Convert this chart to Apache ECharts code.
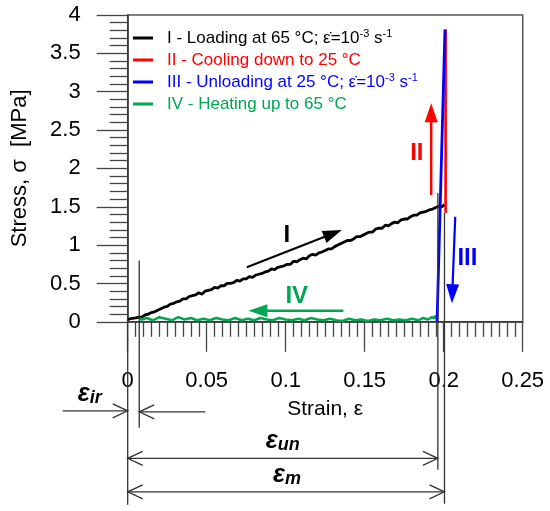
<!DOCTYPE html>
<html><head><meta charset="utf-8">
<script src="https://cdn.jsdelivr.net/npm/echarts@6/dist/echarts.min.js"></script>
<style>html,body{margin:0;padding:0;background:#fff}#c{width:550px;height:511px}</style>
</head><body><div id="c"></div>
<script>
const seriesNames = [
  'I - Loading at 65 °C; ε̇=10-3 s-1',
  'II - Cooling down to 25 °C',
  'III - Unloading at 25 °C; ε̇=10-3 s-1',
  'IV - Heating up to 65 °C'
];
const seriesColors = ['#000000', '#ff0000', '#0000ff', '#00a651'];
const legendRich = [
  'I - Loading at 65 °C; ε̇=10{sup|-3} s{sup|-1}',
  'II - Cooling down to 25 °C',
  'III - Unloading at 25 °C; ε̇=10{sup|-3} s{sup|-1}',
  'IV - Heating up to 65 °C'
];
// [strain, stress MPa]
const loadingI = [[0.000,0.03],[0.002,0.04],[0.003,0.03],[0.005,0.05],[0.007,0.06],[0.009,0.06],[0.011,0.09],[0.013,0.10],[0.015,0.12],[0.017,0.13],[0.019,0.15],[0.021,0.17],[0.023,0.19],[0.025,0.20],[0.027,0.23],[0.029,0.24],[0.031,0.26],[0.033,0.27],[0.035,0.30],[0.037,0.30],[0.039,0.33],[0.041,0.34],[0.043,0.35],[0.045,0.38],[0.047,0.36],[0.049,0.40],[0.051,0.41],[0.053,0.42],[0.055,0.45],[0.057,0.44],[0.059,0.47],[0.061,0.47],[0.063,0.50],[0.065,0.50],[0.067,0.51],[0.069,0.54],[0.071,0.53],[0.073,0.56],[0.075,0.56],[0.077,0.59],[0.079,0.58],[0.081,0.61],[0.083,0.62],[0.085,0.63],[0.087,0.65],[0.089,0.66],[0.091,0.69],[0.093,0.68],[0.095,0.71],[0.097,0.72],[0.099,0.73],[0.101,0.75],[0.103,0.75],[0.105,0.79],[0.107,0.78],[0.109,0.81],[0.111,0.83],[0.113,0.82],[0.115,0.86],[0.117,0.88],[0.119,0.87],[0.121,0.90],[0.123,0.91],[0.125,0.93],[0.127,0.95],[0.129,0.95],[0.131,0.98],[0.133,1.00],[0.135,1.02],[0.137,1.04],[0.139,1.06],[0.141,1.06],[0.143,1.08],[0.145,1.11],[0.147,1.11],[0.149,1.13],[0.151,1.15],[0.153,1.17],[0.155,1.17],[0.157,1.21],[0.159,1.22],[0.161,1.22],[0.163,1.26],[0.165,1.25],[0.167,1.28],[0.169,1.30],[0.171,1.29],[0.173,1.33],[0.175,1.34],[0.177,1.34],[0.179,1.37],[0.181,1.39],[0.183,1.39],[0.185,1.42],[0.187,1.43],[0.189,1.44],[0.191,1.46],[0.193,1.47],[0.195,1.49],[0.197,1.51],[0.199,1.50],[0.2005,1.53]];
const coolingII = [[0.2012,1.42],[0.2012,3.81]];
const unloadingIII = [[0.2008,3.81],[0.1958,0.0]];
const heatingIV = [[0.1958,0.02],[0.1950,0.08],[0.1940,0.05],[0.1925,0.06],[0.190,0.03],[0.187,0.05],[0.184,0.02],[0.180,0.04],[0.176,0.02],[0.172,0.03],[0.168,0.02],[0.164,0.04],[0.160,0.02],[0.156,0.03],[0.152,0.01],[0.148,0.03],[0.144,0.02],[0.140,0.04],[0.136,0.01],[0.132,0.02],[0.128,0.04],[0.124,0.02],[0.120,0.03],[0.116,0.05],[0.112,0.02],[0.108,0.04],[0.104,0.02],[0.100,0.03],[0.096,0.05],[0.092,0.02],[0.088,0.03],[0.084,0.05],[0.080,0.02],[0.076,0.04],[0.072,0.02],[0.068,0.05],[0.064,0.02],[0.060,0.03],[0.056,0.05],[0.052,0.02],[0.048,0.04],[0.044,0.02],[0.040,0.05],[0.036,0.03],[0.032,0.06],[0.028,0.02],[0.024,0.04],[0.020,0.06],[0.016,0.02],[0.012,0.05],[0.009,0.03],[0.0078,0.04]];
const xTickLabels = ['0','0.05','0.1','0.15','0.2','0.25'];
const yTickLabels = ['0','0.5','1','1.5','2','2.5','3','3.5','4'];
// characteristic strains: irreversible, unloading, maximum
const strainIr = 0.0073, strainUn = 0.1963, strainM = 0.2005;

const FONT = "'Liberation Sans', Arial, sans-serif";
const chart = echarts.init(document.getElementById('c'), null, {renderer: 'canvas'});
const seriesData = [loadingI, coolingII, unloadingIII, heatingIV];
const widths = [2.8, 2.6, 2.8, 2.5];
const zs = [3, 4, 6, 5];
const option = {
  animation: false,
  backgroundColor: '#fff',
  grid: {left: 127.7, right: 27.3, top: 15, bottom: 189.2, show: true, borderColor: '#555', borderWidth: 1.5, backgroundColor: 'transparent'},
  legend: {
    orient: 'vertical', left: 133, top: 28, padding: 0, itemGap: 2,
    itemWidth: 20, itemHeight: 3, icon: 'rect',
    data: seriesNames.map((n, i) => ({name: n, itemStyle: {color: seriesColors[i]}, textStyle: {color: seriesColors[i]}})),
    formatter: name => legendRich[seriesNames.indexOf(name)],
    textStyle: {fontFamily: FONT, fontSize: 17, padding: [0, 0, 0, 9], lineHeight: 20,
      rich: {sup: {fontSize: 11, lineHeight: 11, verticalAlign: 'top', fontFamily: FONT}}}
  },
  xAxis: {
    type: 'value', min: Number(xTickLabels[0]), max: Number(xTickLabels[xTickLabels.length - 1]), interval: 0.05,
    name: 'Strain, ε', nameLocation: 'middle', nameGap: 77,
    nameTextStyle: {fontFamily: FONT, fontSize: 21, color: '#000'},
    axisLine: {lineStyle: {color: '#333', width: 1.5}},
    axisTick: {show: true, inside: false, length: 30, lineStyle: {color: '#444', width: 1.3}},
    minorTick: {show: true, splitNumber: 10, length: 15, lineStyle: {color: '#444', width: 1.3}},
    splitLine: {show: false},
    axisLabel: {fontFamily: FONT, fontSize: 22, color: '#000', margin: 48,
      formatter: v => xTickLabels[Math.round(v / 0.05)]}
  },
  yAxis: {
    type: 'value', min: Number(yTickLabels[0]), max: Number(yTickLabels[yTickLabels.length - 1]), interval: 0.5,
    name: 'Stress, σ  [MPa]', nameLocation: 'middle', nameGap: 97,
    nameTextStyle: {fontFamily: FONT, fontSize: 22, color: '#000'},
    axisLine: {lineStyle: {color: '#333', width: 1.5}},
    axisTick: {show: true, inside: false, length: 31, lineStyle: {color: '#444', width: 1.3}},
    minorTick: {show: true, splitNumber: 5, length: 18, lineStyle: {color: '#444', width: 1.3}},
    splitLine: {show: false},
    axisLabel: {fontFamily: FONT, fontSize: 22, color: '#000', margin: 47,
      formatter: v => yTickLabels[Math.round(v / 0.5)]}
  },
  series: seriesNames.map((n, i) => ({
    name: n, type: 'line', data: seriesData[i], showSymbol: false, symbol: 'none',
    lineStyle: {color: seriesColors[i], width: widths[i]}, itemStyle: {color: seriesColors[i]},
    z: zs[i], clip: false
  }))
};
chart.setOption(option);

const P = (x, y) => chart.convertToPixel({gridIndex: 0}, [x, y]);
const base = P(0, 0)[1];
const g = [];
const LC = '#333';
function line(x1, y1, x2, y2, c, w) {
  g.push({type: 'line', silent: true, z: 10, shape: {x1, y1, x2, y2}, style: {stroke: c || LC, lineWidth: w || 1.3}});
}
function chevron(tx, ty, dx, dy) {
  const L = Math.hypot(dx, dy), ux = dx / L, uy = dy / L, nx = -uy, ny = ux;
  g.push({type: 'polyline', silent: true, z: 10, shape: {points: [[tx - ux * 15 + nx * 7, ty - uy * 15 + ny * 7], [tx, ty], [tx - ux * 15 - nx * 7, ty - uy * 15 - ny * 7]]}, style: {stroke: LC, lineWidth: 1.3, fill: null}});
}
function arrow(p0, p1, c, w) {
  const dx = p1[0] - p0[0], dy = p1[1] - p0[1], L = Math.hypot(dx, dy), ux = dx / L, uy = dy / L, nx = -uy, ny = ux;
  const HL = 19, HW = 6.5;
  const bx = p1[0] - ux * HL, by = p1[1] - uy * HL;
  line(p0[0], p0[1], bx + ux * 2, by + uy * 2, c, w);
  g.push({type: 'polygon', silent: true, z: 10, shape: {points: [[p1[0], p1[1]], [bx + nx * HW, by + ny * HW], [bx - nx * HW, by - ny * HW]]}, style: {fill: c}});
}
function label(p, text, c) {
  g.push({type: 'text', silent: true, z: 10, x: p[0], y: p[1], style: {text, fill: c, fontFamily: FONT, fontSize: 24, fontWeight: 'bold', align: 'center', verticalAlign: 'middle'}});
}
function epsLabel(x, y, sub) {
  g.push({type: 'text', silent: true, z: 10, x, y, style: {text: '{e|ε}{s|' + sub + '}', fill: '#000', align: 'left', verticalAlign: 'middle',
    rich: {e: {fontFamily: FONT, fontSize: 25, fontWeight: 'bold', fontStyle: 'italic', lineHeight: 26},
           s: {fontFamily: FONT, fontSize: 18, fontWeight: 'bold', fontStyle: 'italic', lineHeight: 13, verticalAlign: 'bottom'}}}});
}

// vertical reference lines
const x0 = P(0, 0)[0], xIr = P(strainIr, 0)[0], xUn = P(strainUn, 0)[0], xM = P(strainM, 0)[0];
line(x0, base, x0, base + 183);
line(xIr, P(0, 0.8)[1], xIr, base + 106);
line(xUn, P(0, 1.68)[1], xUn, base + 148);
line(xM, P(0, 1.42)[1], xM, base + 182);

// epsilon_ir arrows
const yIr = base + 89;
line(x0 - 65, yIr, x0, yIr); chevron(x0, yIr, 1, 0);
line(xIr, yIr + 1, xIr + 66, yIr + 1); chevron(xIr, yIr + 1, -1, 0);
epsLabel(x0 - 50, yIr - 17, 'ir');
// epsilon_un
const yUn = base + 136.5;
line(x0, yUn, xUn, yUn); chevron(x0, yUn, -1, 0); chevron(xUn, yUn, 1, 0);
epsLabel((x0 + xUn) / 2 - 17, yUn - 17, 'un');
// epsilon_m
const yM = base + 170;
line(x0, yM, xM, yM); chevron(x0, yM, -1, 0); chevron(xM, yM, 1, 0);
epsLabel((x0 + xM) / 2 - 13, yM - 17, 'm');

// process arrows in the plot
arrow(P(0.0754, 0.711), P(0.1355, 1.197), '#000', 2);
label(P(0.1007, 1.13), 'I', '#000');
arrow(P(0.1365, 0.145), P(0.0764, 0.145), seriesColors[3], 2.4);
label(P(0.107, 0.327), 'IV', seriesColors[3]);
arrow(P(0.1921, 1.653), P(0.1921, 2.849), seriesColors[1], 2.4);
label(P(0.183, 2.2), 'II', seriesColors[1]);
arrow(P(0.2073, 1.37), P(0.2052, 0.241), seriesColors[2], 2.2);
label(P(0.215, 0.828), 'III', seriesColors[2]);

chart.setOption({graphic: g});
</script></body></html>
